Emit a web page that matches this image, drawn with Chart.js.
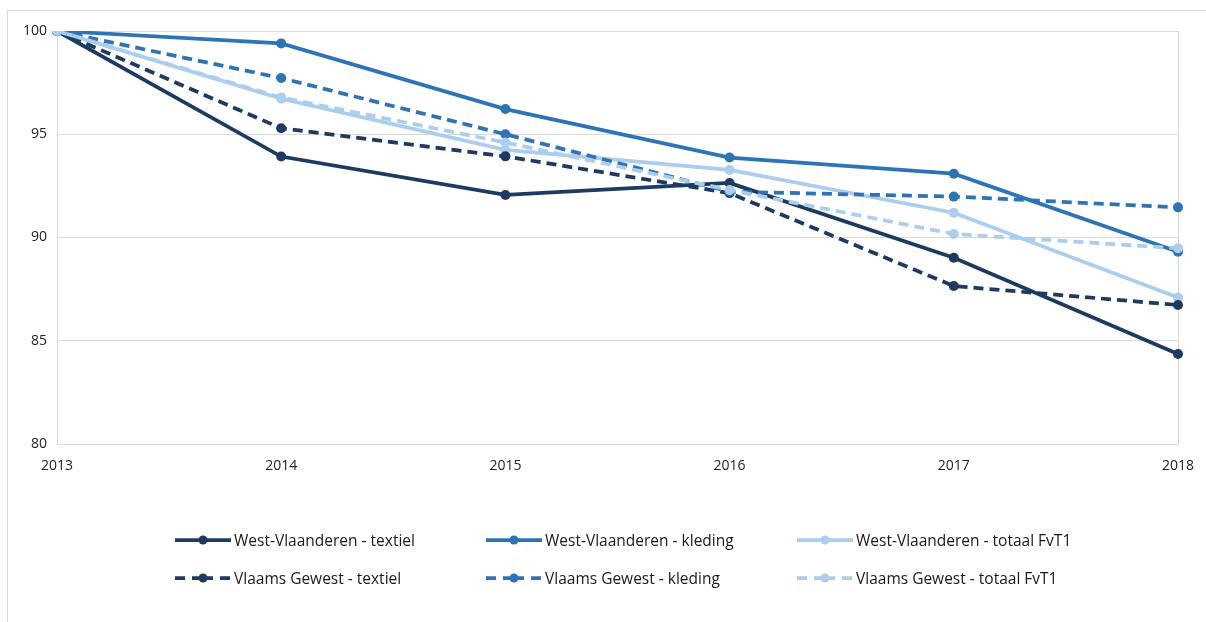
<!DOCTYPE html>
<html>
<head>
<meta charset="utf-8">
<script src="https://cdn.jsdelivr.net/npm/chart.js@4/dist/chart.umd.min.js"></script>
<style>
  body { margin: 0; background: #fff; font-family: "Open Sans", sans-serif; }
  #wrap { position: relative; width: 1206px; height: 622px; overflow: hidden; }
  #frame { position: absolute; left: 7px; top: 10px; right: -5px; bottom: -5px;
           border-left: 1px solid #d9d9d9; border-top: 1px solid #d9d9d9; }
  #chart { position: absolute; left: 0; top: 0; }
  .leg { position: absolute; display: flex; align-items: center; height: 20px;
         font-size: 15.5px; color: #1a1a1a; white-space: nowrap; }
  .leg svg { margin-right: 3px; }
</style>
</head>
<body>
<div id="wrap">
  <div id="frame"></div>
  <canvas id="chart" width="1206" height="622"></canvas>
  <div id="legend"></div>
</div>
<script>
// data ---------------
const years = ["2013", "2014", "2015", "2016", "2017", "2018"];
const wvTextiel = [100, 93.92, 92.06, 92.64, 89.02, 84.36];
const wvKleding = [100, 99.4, 96.22, 93.87, 93.09, 89.31];
const wvTotaal  = [100, 96.72, 94.24, 93.27, 91.2, 87.09];
const vgTextiel = [100, 95.29, 93.93, 92.15, 87.65, 86.73];
const vgKleding = [100, 97.72, 95.0, 92.22, 91.98, 91.46];
const vgTotaal  = [100, 96.78, 94.6, 92.3, 90.17, 89.48];
const yTicks = [80, 85, 90, 95, 100];

const navy = "#1d3a60";
const mid = "#2d73b7";
const light = "#abcdee";

const series = [
  { label: "West-Vlaanderen - textiel", data: wvTextiel, color: navy, dashed: false },
  { label: "West-Vlaanderen - kleding", data: wvKleding, color: mid, dashed: false },
  { label: "West-Vlaanderen - totaal FvT1", data: wvTotaal, color: light, dashed: false },
  { label: "Vlaams Gewest - textiel", data: vgTextiel, color: navy, dashed: true },
  { label: "Vlaams Gewest - kleding", data: vgKleding, color: mid, dashed: true },
  { label: "Vlaams Gewest - totaal FvT1", data: vgTotaal, color: light, dashed: true }
];

const grid = "#d9d9d9";
const tickFont = { family: "Open Sans", size: 14 };

const chart = new Chart(document.getElementById("chart").getContext("2d"), {
  type: "line",
  data: {
    labels: years,
    datasets: series.map((s, i) => ({
      label: s.label,
      data: s.data,
      borderColor: s.color,
      backgroundColor: s.color,
      borderWidth: 3.75,
      borderDash: s.dashed ? [10, 6] : [],
      pointRadius: 5,
      pointBorderWidth: 0,
      pointHoverRadius: 5,
      tension: 0,
      fill: false,
      order: series.length - i // 後のシリーズを上に描く（Excelと同じ）
    }))
  },
  options: {
    responsive: false,
    animation: false,
    layout: { padding: { left: 7, right: 28, top: 31, bottom: 138 } },
    plugins: { legend: { display: false }, tooltip: { enabled: false } },
    scales: {
      x: {
        offset: false,
        grid: {
          drawTicks: false,
          color: ctx => (ctx.index === 0 || ctx.index === years.length - 1) ? grid : "rgba(0,0,0,0)"
        },
        border: { display: false },
        ticks: { font: tickFont, color: "#222", padding: 14, maxRotation: 0 },
        afterFit: scale => {
          scale.height = 40;
          scale.paddingLeft = 0;
          scale.paddingRight = 0;
        }
      },
      y: {
        min: 80,
        max: 100,
        afterBuildTicks: scale => { scale.ticks = yTicks.map(v => ({ value: v })); },
        grid: { color: grid, drawTicks: false },
        border: { color: grid },
        ticks: { font: tickFont, color: "#222", padding: 10 },
        afterFit: scale => { scale.width = 50; }
      }
    }
  }
});

// 凡例（HTML） ---------------
const colX = [175, 486, 797];
const rowY = [530, 568];
const legend = document.getElementById("legend");
chart.data.datasets.forEach((ds, i) => {
  const s = series[i];
  const el = document.createElement("div");
  el.className = "leg";
  el.style.left = colX[i % 3] + "px";
  el.style.top = rowY[Math.floor(i / 3)] + "px";
  const dash = s.dashed ? 'stroke-dasharray="10 7 21 7 10"' : "";
  el.innerHTML =
    `<svg width="56" height="12"><line x1="0" y1="6" x2="56" y2="6" stroke="${ds.borderColor}" stroke-width="3.75" ${dash}/>` +
    `<circle cx="28" cy="6" r="4.5" fill="${ds.borderColor}"/></svg><span>${ds.label}</span>`;
  legend.appendChild(el);
});
</script>
</body>
</html>
